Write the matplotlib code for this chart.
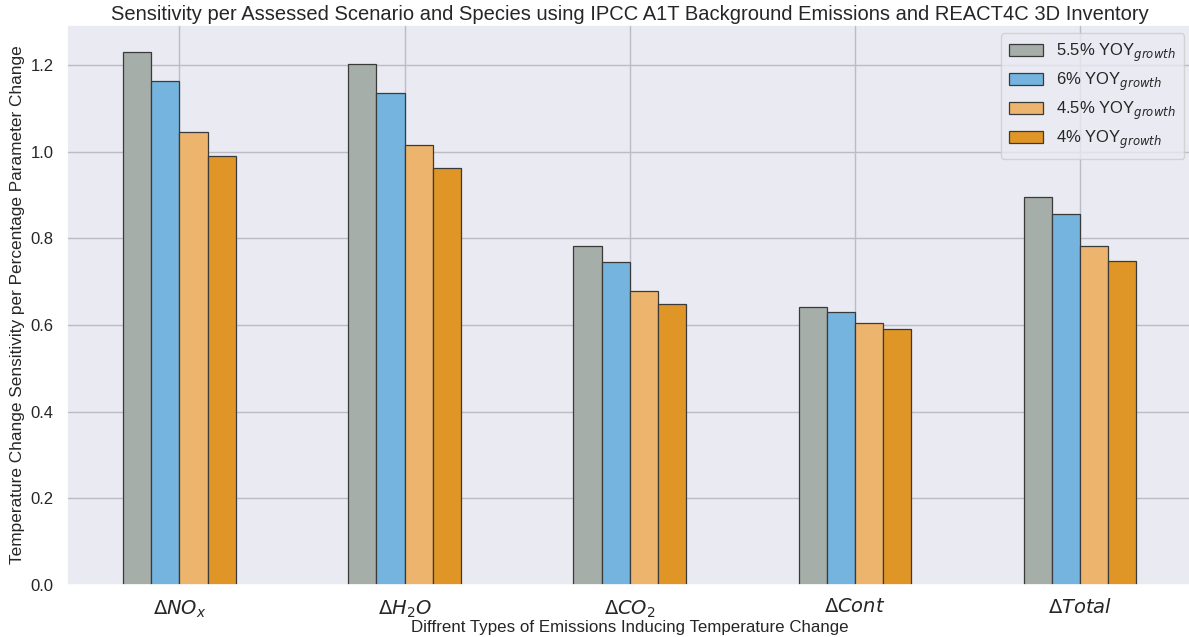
import matplotlib
matplotlib.use("Agg")
import matplotlib.pyplot as plt
import numpy as np
import seaborn as sns

categories = [r"$\Delta NO_x$", r"$\Delta H_2O$", r"$\Delta CO_2$", r"$\Delta Cont$", r"$\Delta Total$"]
series_labels = [
    r"5.5% YOY$_{growth}$",
    r"6% YOY$_{growth}$",
    r"4.5% YOY$_{growth}$",
    r"4% YOY$_{growth}$",
]
growth_55 = [1.229, 1.203, 0.783, 0.641, 0.896]
growth_60 = [1.164, 1.136, 0.745, 0.629, 0.857]
growth_45 = [1.045, 1.016, 0.678, 0.604, 0.782]
growth_40 = [0.991, 0.962, 0.648, 0.591, 0.748]

colors = ["#a6aeaa", "#74b4de", "#ecb46c", "#df9626"]

sns.set_theme(style="darkgrid")
plt.rcParams["font.family"] = ["Liberation Sans", "DejaVu Sans"]

fig = plt.figure(figsize=(11.89, 6.37), dpi=100)
ax = fig.add_axes([0.0563, 0.0816, 0.9466, 0.879])

series = [growth_55, growth_60, growth_45, growth_40]
x = np.arange(len(categories))
width = 0.5 / len(series)
for i, (vals, lab, col) in enumerate(zip(series, series_labels, colors)):
    ax.bar(
        x - 0.25 + width * (i + 0.5),
        vals,
        width,
        label=lab,
        color=col,
        edgecolor="#3a3a3a",
        linewidth=0.9,
        zorder=2,
    )

ax.set_xticks(x)
ax.set_xticklabels(categories, fontsize=14)
ax.set_xlim(-0.5, 4.5)
ax.set_ylim(0, 1.292)
ax.tick_params(axis="y", labelsize=12)
ax.set_axisbelow(True)
ax.grid(True, color="#bcbcc4", linewidth=1)

ax.set_title(
    "Sensitivity per Assessed Scenario and Species using IPCC A1T Background Emissions and REACT4C 3D Inventory",
    fontsize=14.5,
    pad=4,
)
ax.set_xlabel("Diffrent Types of Emissions Inducing Temperature Change", fontsize=12.2, labelpad=0)
ax.set_ylabel("Temperature Change Sensitivity per Percentage Parameter Change", fontsize=12.4)

ax.legend(
    loc="upper right",
    fontsize=12,
    frameon=True,
    handlelength=2.0,
    borderpad=0.5,
    labelspacing=0.4,
)

fig.savefig("out.png", dpi=100)
